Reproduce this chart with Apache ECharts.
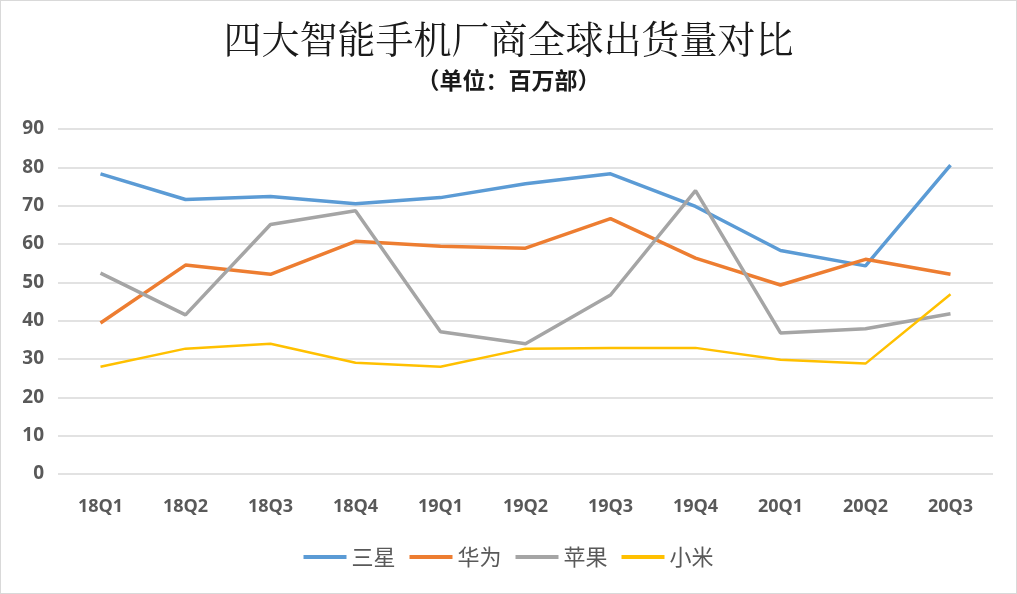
<!DOCTYPE html>
<html><head><meta charset="utf-8">
<script src="https://cdn.jsdelivr.net/npm/echarts@6/dist/echarts.min.js"></script>
<style>html,body{margin:0;padding:0;background:#fff;}#c{width:1015px;height:592px;border:1px solid #d9d9d9;}</style>
</head><body><div id="c"></div>
<script>
const categories = ['18Q1','18Q2','18Q3','18Q4','19Q1','19Q2','19Q3','19Q4','20Q1','20Q2','20Q3'];
const samsung = [78.3, 71.6, 72.4, 70.5, 72.1, 75.7, 78.3, 69.8, 58.3, 54.3, 80.6];
const huawei  = [39.4, 54.5, 52.1, 60.7, 59.4, 58.9, 66.6, 56.3, 49.3, 56.0, 52.1];
const apple   = [52.4, 41.5, 65.1, 68.7, 37.1, 34.0, 46.7, 73.9, 36.8, 37.9, 41.8];
const xiaomi  = [28.0, 32.7, 34.0, 29.0, 28.0, 32.7, 32.9, 32.9, 29.8, 28.8, 46.9];
const seriesNames = ['三星','华为','苹果','小米'];
const colors = ['#5B9BD5','#ED7D31','#A5A5A5','#FFC000'];
const widths = [3.5,3.5,3.5,2.5];
const yTicks = {min:0, max:90, interval:10};

const chart = echarts.init(document.getElementById('c'));
const data = [samsung, huawei, apple, xiaomi];
chart.setOption({
  animation:false,
  title:[
    {text:'四大智能手机厂商全球出货量对比', left:'center', top:14,
     textStyle:{fontFamily:'"Noto Serif CJK SC","Noto Sans CJK SC",serif', fontWeight:'normal', fontSize:38, color:'#1a1a1a'}},
    {text:'（单位：百万部）', left:'center', top:63,
     textStyle:{fontFamily:'"Noto Sans CJK SC",sans-serif', fontWeight:'bold', fontSize:23, color:'#1a1a1a'}}
  ],
  legend:{bottom:20, left:'center', itemWidth:43, itemHeight:4, itemGap:14,
    icon:'rect',
    textStyle:{fontFamily:'"Noto Sans CJK SC",sans-serif', fontSize:22, color:'#595959'},
    data:seriesNames},
  grid:{left:57, right:23, top:128, bottom:119, containLabel:false},
  xAxis:{type:'category', data:categories, boundaryGap:true,
    axisLine:{show:false}, axisTick:{show:false},
    axisLabel:{margin:24, color:'#595959', fontWeight:'bold', fontSize:18, fontFamily:'"Open Sans",sans-serif'}},
  yAxis:{type:'value', min:yTicks.min, max:yTicks.max, interval:yTicks.interval,
    axisLine:{show:false}, axisTick:{show:false},
    splitLine:{lineStyle:{color:'#d9d9d9', width:1.5}},
    axisLabel:{margin:14, color:'#595959', fontWeight:'bold', fontSize:19, fontFamily:'"Open Sans",sans-serif'}},
  series: seriesNames.map((n,i)=>({
    name:n, type:'line', data:data[i], symbol:'none',
    lineStyle:{color:colors[i], width:widths[i]}, itemStyle:{color:colors[i]}
  }))
});
</script></body></html>
